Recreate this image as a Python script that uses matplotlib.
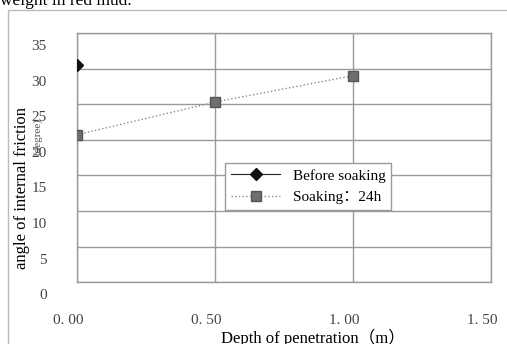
import matplotlib.pyplot as plt
from matplotlib.transforms import ScaledTranslation
from matplotlib.patches import Rectangle

plt.rcParams['font.family'] = ['Liberation Serif', 'Noto Sans CJK SC']

# data
depth_before = [0.0]
phi_before = [30.5]
depth_soak = [0.0, 0.5, 1.0]
phi_soak = [20.7, 25.3, 29.0]

xticks = [0.0, 0.5, 1.0, 1.5]
xticklabels = ["0. 00", "0. 50", "1. 00", "1. 50"]
yticks = [0, 5, 10, 15, 20, 25, 30, 35]

fig = plt.figure(figsize=(5.07, 3.44), dpi=100)
ax = fig.add_axes([0.152, 0.180, 0.816, 0.724])

# outer chart border from the scan
fig.patches.append(Rectangle((8/507, -0.1), 1.2, 1.1 - 10/344,
                             transform=fig.transFigure, fill=False,
                             edgecolor="#bbbbbb", lw=1.0))
fig.text(0.0, 1 - 5/344, "weight in red mud.", fontsize=12.5, va="baseline")

ax.plot(depth_soak, phi_soak, linestyle=":", color="#8a8a8a", lw=1.0,
        marker="s", markersize=7, markerfacecolor="#6e6e6e",
        markeredgecolor="#555555", label="Soaking：24h", zorder=3)
ax.plot(depth_before, phi_before, linestyle="-", color="#222222", lw=0.8,
        marker="D", markersize=6, markerfacecolor="#111111",
        markeredgecolor="#111111", label="Before soaking", zorder=4)

ax.set_xlim(0, 1.5)
ax.set_ylim(0, 35)
ax.set_xticks(xticks)
ax.set_xticklabels(xticklabels, fontsize=11)
ax.set_yticks(yticks)
ax.set_yticklabels([str(v) for v in yticks], fontsize=11)
ax.tick_params(length=0, colors="#444444")
ax.tick_params(axis="y", pad=22)
ax.tick_params(axis="x", pad=23)
ax.grid(True, color="#9a9a9a", lw=1.0)
ax.set_axisbelow(True)
for s in ax.spines.values():
    s.set_color("#9a9a9a")
    s.set_linewidth(1.0)

# scanned labels sit a bit off their grid lines
for lab in ax.get_yticklabels():
    lab.set_transform(lab.get_transform() + ScaledTranslation(0, -0.12, fig.dpi_scale_trans))
for lab in ax.get_xticklabels():
    lab.set_transform(lab.get_transform() + ScaledTranslation(-0.09, 0, fig.dpi_scale_trans))

ax.set_xlabel("Depth of penetration（m）", fontsize=12)
ax.xaxis.set_label_coords(0.57, -0.222)
ax.xaxis.label.set_va("center")
fig.text(22/507, 1 - 188/344, "angle of internal friction", rotation=90,
         fontsize=12, ha="center", va="center")
fig.text(38/507, 1 - 137/344, "(degree)", rotation=90,
         fontsize=8, ha="center", va="center", color="#555555")

h, l = ax.get_legend_handles_labels()
leg = ax.legend(h[::-1], l[::-1], loc="upper left",
                bbox_to_anchor=(0.34, 0.51), fontsize=11, frameon=True,
                fancybox=False, edgecolor="#9a9a9a", framealpha=1,
                handlelength=3.2, borderpad=0.4, labelspacing=0.5)
leg.get_frame().set_linewidth(1.0)

fig.savefig("out.png", dpi=100)
